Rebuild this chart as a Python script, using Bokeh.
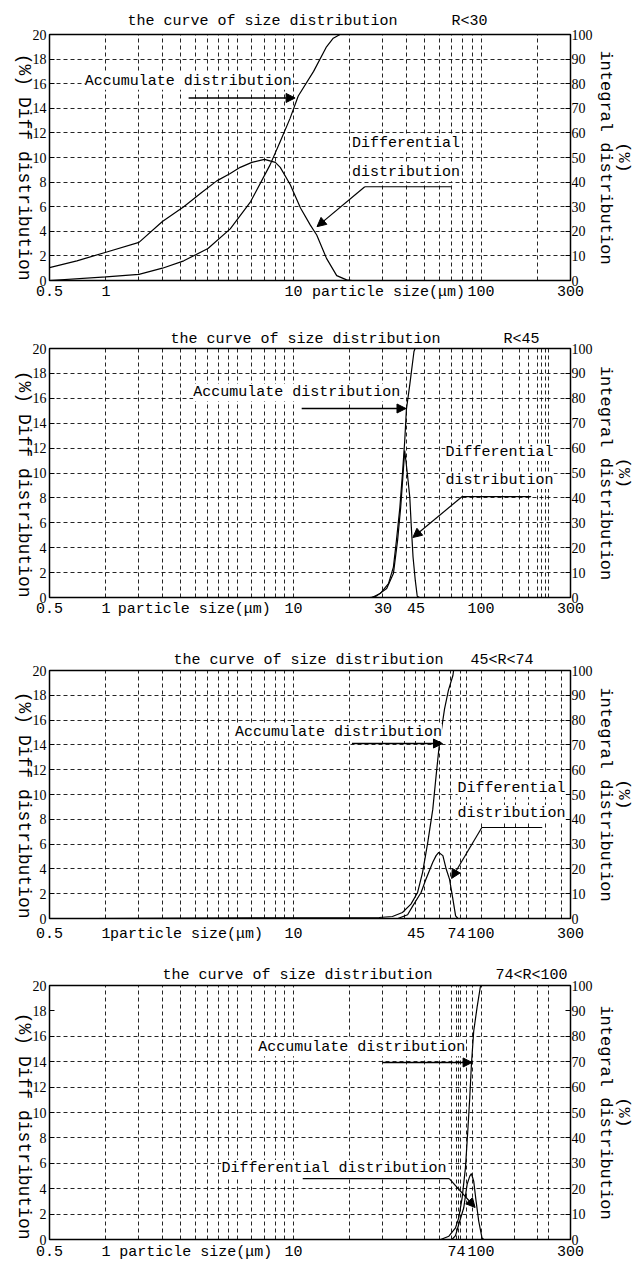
import math
from bokeh.plotting import figure
from bokeh.layouts import column
from bokeh.models import (Range1d, LinearAxis, FixedTicker, CustomJSTickFormatter,
                          Label, Arrow, NormalHead)
from bokeh.embed import file_html
from bokeh.resources import INLINE

# ---------------- data ----------------
TITLE = "the curve of size distribution"
X_LABEL = "particle size(\u03bcm)"
LEFT_TITLE = "(%) Diff distribution"
RIGHT_TITLE = "(%)\nintegral distribution"
ACC_TEXT = "Accumulate distribution"

left_ticks = [0, 2, 4, 6, 8, 10, 12, 14, 16, 18, 20]
right_ticks = [0, 10, 20, 30, 40, 50, 60, 70, 80, 90, 100]

# panel 1 : R<30
p1_range = "R<30"
p1_xticks = [0.5, 1, 10, 100, 300]
p1_acc_x = [0.5, 1.0, 1.5, 2.0, 2.6, 3.5, 4.6, 5.9, 7.5, 8.5, 9.6, 10.6, 12.8, 15.0, 16.3, 17.7, 300]
p1_acc_y = [0, 1.5, 2.5, 5.0, 8.0, 13, 21, 32, 47, 56.5, 66, 75, 85, 95, 98.5, 100, 100]
p1_diff_x = [0.5, 0.7, 1.0, 1.5, 2.0, 2.6, 3.2, 3.9, 4.6, 5.2, 6.0, 7.0, 8.0, 8.5, 9.6, 10.9,
             12.3, 13.3, 15.0, 17.0, 19.2, 20.5, 56]
p1_diff_y = [1.05, 1.6, 2.3, 3.1, 4.8, 6.0, 7.1, 8.1, 8.7, 9.2, 9.6, 9.85, 9.6, 9.2, 7.8, 5.9,
             4.5, 3.7, 1.8, 0.4, 0.05, 0, 0]

# panel 2 : R<45
p2_range = "R<45"
p2_xticks = [0.5, 1, 10, 30, 45, 100, 300]
p2_acc_x = [1.95, 26.2, 29.0, 32.1, 34.1, 35.4, 36.9, 38.1, 39.2, 40.0, 41.7, 43.9, 44.5, 300]
p2_acc_y = [0, 0, 1.6, 5.6, 12.2, 23, 36, 49.6, 63, 75.5, 85.5, 98.8, 100, 100]
p2_diff_x = [1.95, 25.5, 27.3, 31.4, 34.1, 35.9, 37.3, 38.4, 39.2, 40.5, 41.7, 42.5, 43.4,
             44.6, 45.7, 47.0, 51]
p2_diff_y = [0, 0, 0.05, 0.72, 1.92, 4.59, 7.25, 9.92, 11.8, 9.9, 8.05, 5.65, 3.25,
             1.39, 0.1, 0, 0]

# panel 3 : 45<R<74
p3_range = "45<R<74"
p3_xticks = [0.5, 1, 10, 45, 74, 100, 300]
p3_acc_x = [0.86, 28.6, 33.7, 38.1, 42.3, 45.9, 48.8, 52.0, 55.3, 57.6, 60.1, 63.9, 67.0,
            70.8, 71.4, 300]
p3_acc_y = [0, 0.4, 0.8, 2.4, 5.8, 10.5, 18.6, 30.7, 44, 57.5, 71, 84.5, 92, 98, 100, 100]
p3_diff_x = [0.86, 36.0, 40.6, 43.2, 47.9, 50.9, 55.3, 57.6, 59.5, 62.6, 65.2, 67.9, 70.8,
             73.2, 75.3, 89]
p3_diff_y = [0, 0, 0.3, 1.0, 2.1, 3.18, 4.53, 5.07, 5.33, 5.07, 3.99, 3.18, 1.56, 0.21, 0, 0]

# panel 4 : 74<R<100
p4_range = "74<R<100"
p4_xticks = [0.5, 1, 10, 74, 100, 300]
p4_acc_x = [3.9, 60.9, 67.4, 73.1, 76.1, 79.3, 82.6, 85.0, 87.1, 88.9, 91.4, 95.3, 99.2,
            100.5, 300]
p4_acc_y = [0, 0, 1.3, 4.6, 8.6, 16.4, 28.3, 42.7, 56, 69, 82, 91.5, 99.5, 100, 100]
p4_diff_x = [3.9, 70.0, 73.1, 76.1, 80.9, 84.3, 87.1, 88.9, 91.4, 94.1, 97.2, 101.2, 103.3, 117]
p4_diff_y = [0, 0, 0.3, 1.2, 2.5, 4.34, 4.99, 5.18, 4.6, 3.03, 1.45, 0.13, 0, 0]

# grid lines drawn in each panel (particle size, um / diff %)
grid_low = [1, 1.5, 2, 2.5, 3, 3.5, 4, 4.5, 5, 6, 7, 8, 9, 10]
p1_grid_x = grid_low + [20, 30, 40, 50, 60, 70, 80, 90, 100, 200]
p2_grid_x = grid_low + [20, 30, 40, 50, 60, 70, 80, 90, 100, 130, 160, 180, 200, 210, 220, 230]
p3_grid_x = grid_low + [20, 30, 39, 45, 50, 60, 69, 78, 84, 100, 134, 152, 179, 220, 270]
p4_grid_x = grid_low + [20, 30, 40, 50, 60, 70, 74, 76, 78, 84, 90, 100, 150, 200, 230]
grid_y_full = [2, 4, 6, 8, 10, 12, 14, 16, 18]
grid_y_p4 = [2, 4, 6, 8, 10, 12, 14, 16]

# ---------------- styling / layout ----------------
MONO = "Liberation Mono"
NARROW = "Liberation Sans Narrow"
FRAME_LEFT = 49
FRAME_RIGHT = 63
NBSP = "\u00a0"

panels = [
    dict(rng=p1_range, gap=6, xt=p1_xticks, ax=p1_acc_x, ay=p1_acc_y, dx=p1_diff_x, dy=p1_diff_y,
         gx=p1_grid_x, gy=grid_y_full, h=305, bt=34, bb=25, stand=3,
         t_off=78, t_stand=9, ps_x=32.1,
         acc_text=(0.77, 16.2), acc_arrow=(2.76, 10.2, 14.84),
         diff_text=[(20.5, 11.1, "Differential"), (20.5, 8.76, "distribution")],
         leader=(69.3, 24.0, 7.62), diff_arrow=(24.0, 7.62, 13.35, 4.38)),
    dict(rng=p2_range, gap=7, xt=p2_xticks, ax=p2_acc_x, ay=p2_acc_y, dx=p2_diff_x, dy=p2_diff_y,
         gx=p2_grid_x, gy=grid_y_full, h=315, bt=43, bb=23, stand=3,
         t_off=121, t_stand=2, ps_x=2.96,
         acc_text=(2.92, 16.47), acc_arrow=(11.06, 39.8, 15.18),
         diff_text=[(64.6, 11.65, "Differential"), (64.6, 9.4, "distribution")],
         leader=(185, 79.4, 8.11), diff_arrow=(79.4, 8.11, 43.3, 4.82)),
    dict(rng=p3_range, gap=3, xt=p3_xticks, ax=p3_acc_x, ay=p3_acc_y, dx=p3_diff_x, dy=p3_diff_y,
         gx=p3_grid_x, gy=grid_y_full, h=325, bt=50, bb=27, stand=7,
         t_off=124, t_stand=3, ps_x=2.69,
         acc_text=(4.87, 15.0), acc_arrow=(20.5, 62.3, 14.11),
         diff_text=[(75, 10.48, "Differential"), (75, 8.47, "distribution")],
         leader=(212, 101, 7.34), diff_arrow=(101, 7.34, 69.7, 3.23)),
    dict(rng=p4_range, gap=7, xt=p4_xticks, ax=p4_acc_x, ay=p4_acc_y, dx=p4_diff_x, dy=p4_diff_y,
         gx=p4_grid_x, gy=grid_y_p4, h=321, bt=40, bb=27, stand=4,
         t_off=113, t_stand=3, ps_x=3.01,
         acc_text=(6.49, 15.1), acc_arrow=(29.9, 89.6, 13.94),
         diff_text=[(4.13, 5.6, "Differential distribution")],
         leader=(11.2, 67.7, 4.80), diff_arrow=(67.7, 4.80, 93.0, 2.52)),
]


def style_axis(ax, font=NARROW, size="14px"):
    ax.axis_line_color = "black"
    ax.major_tick_line_color = "black"
    ax.major_tick_in = 5
    ax.major_tick_out = 0
    ax.minor_tick_line_color = None
    ax.major_label_text_font = font
    ax.major_label_text_font_size = size
    ax.major_label_text_color = "black"
    ax.axis_label_text_font = MONO
    ax.axis_label_text_font_style = "normal"
    ax.axis_label_text_color = "black"


def make_panel(c):
    p = figure(width=635, height=c["h"], x_axis_type="log",
               x_range=Range1d(0.5, 300), y_range=Range1d(0, 20),
               output_backend="svg", toolbar_location=None,
               min_border_top=c["bt"], min_border_bottom=c["bb"],
               min_border_left=FRAME_LEFT, min_border_right=FRAME_RIGHT)
    p.background_fill_color = "white"
    p.border_fill_color = "white"
    p.outline_line_color = "black"
    p.outline_line_width = 1.5

    # title (the size class sits on the same line)
    p.title.text = TITLE + NBSP * c["gap"] + c["rng"]
    p.title.text_font = MONO
    p.title.text_font_size = "15px"
    p.title.text_font_style = "normal"
    p.title.text_color = "black"
    p.title.align = "left"
    p.title.offset = c["t_off"]
    p.title.standoff = c["t_stand"]

    p.extra_y_ranges = {"int": Range1d(0, 100)}

    # bottom axis; the axis name sits in the tick-label row
    xa = p.xaxis[0]
    xa.ticker = FixedTicker(ticks=sorted(c["xt"] + [c["ps_x"]]))
    xa.formatter = CustomJSTickFormatter(
        args=dict(pos=c["ps_x"], lab=X_LABEL),
        code="if (Math.abs(tick - pos) < 1e-6) { return lab; } return String(tick);")
    style_axis(xa, font=MONO, size="15px")
    xa.major_tick_in = 0
    xa.major_label_standoff = c["stand"]

    # left axis (title reads top to bottom)
    ya = p.yaxis[0]
    ya.ticker = FixedTicker(ticks=left_ticks)
    style_axis(ya)
    ya.major_label_standoff = 3
    ya.axis_label = LEFT_TITLE
    ya.axis_label_text_font_size = "18px"
    ya.axis_label_standoff = 6
    try:
        ya.axis_label_orientation = -math.pi / 2
        ya.axis_label_align = "start"
    except Exception:
        pass

    # right axis (integral), two-line title
    ra = LinearAxis(y_range_name="int", ticker=FixedTicker(ticks=right_ticks))
    style_axis(ra)
    ra.major_label_standoff = 1
    ra.axis_label = RIGHT_TITLE
    ra.axis_label_text_font_size = "17px"
    ra.axis_label_text_line_height = 0.95
    ra.axis_label_standoff = 0
    p.add_layout(ra, "right")

    # grid
    p.xgrid[0].ticker = FixedTicker(ticks=c["gx"])
    p.ygrid[0].ticker = FixedTicker(ticks=c["gy"])
    for g in (p.xgrid[0], p.ygrid[0]):
        g.grid_line_color = "black"
        g.grid_line_dash = "4 3"
        g.grid_line_width = 1
        g.grid_line_alpha = 0.85

    # curves
    p.line(c["dx"], c["dy"], line_color="black", line_width=1.2)
    p.line(c["ax"], c["ay"], line_color="black", line_width=1.2, y_range_name="int")

    # annotations inside the frame
    p.add_layout(Label(x=c["acc_text"][0], y=c["acc_text"][1], text=ACC_TEXT,
                       text_font=MONO, text_font_size="15px", text_color="black",
                       text_align="left", text_baseline="middle",
                       background_fill_color="white"))
    x0, x1, ya_ = c["acc_arrow"]
    p.add_layout(Arrow(end=NormalHead(size=9, fill_color="black", line_color="black"),
                       x_start=x0, y_start=ya_, x_end=x1, y_end=ya_,
                       line_color="black", line_width=1.4))
    for (tx, ty, tt) in c["diff_text"]:
        p.add_layout(Label(x=tx, y=ty, text=tt, text_font=MONO, text_font_size="15px",
                           text_color="black", text_align="left", text_baseline="middle",
                           background_fill_color="white"))
    lx0, lx1, ly = c["leader"]
    p.add_layout(Arrow(end=None, x_start=lx0, y_start=ly, x_end=lx1, y_end=ly,
                       line_color="black", line_width=1.2))
    ax0, ay0, ax1, ay1 = c["diff_arrow"]
    p.add_layout(Arrow(end=NormalHead(size=9, fill_color="black", line_color="black"),
                       x_start=ax0, y_start=ay0, x_end=ax1, y_end=ay1,
                       line_color="black", line_width=1.2))
    return p


figs = [make_panel(c) for c in panels]
layout = column(*figs, spacing=0)

open("out.html", "w").write(file_html(layout, INLINE))
